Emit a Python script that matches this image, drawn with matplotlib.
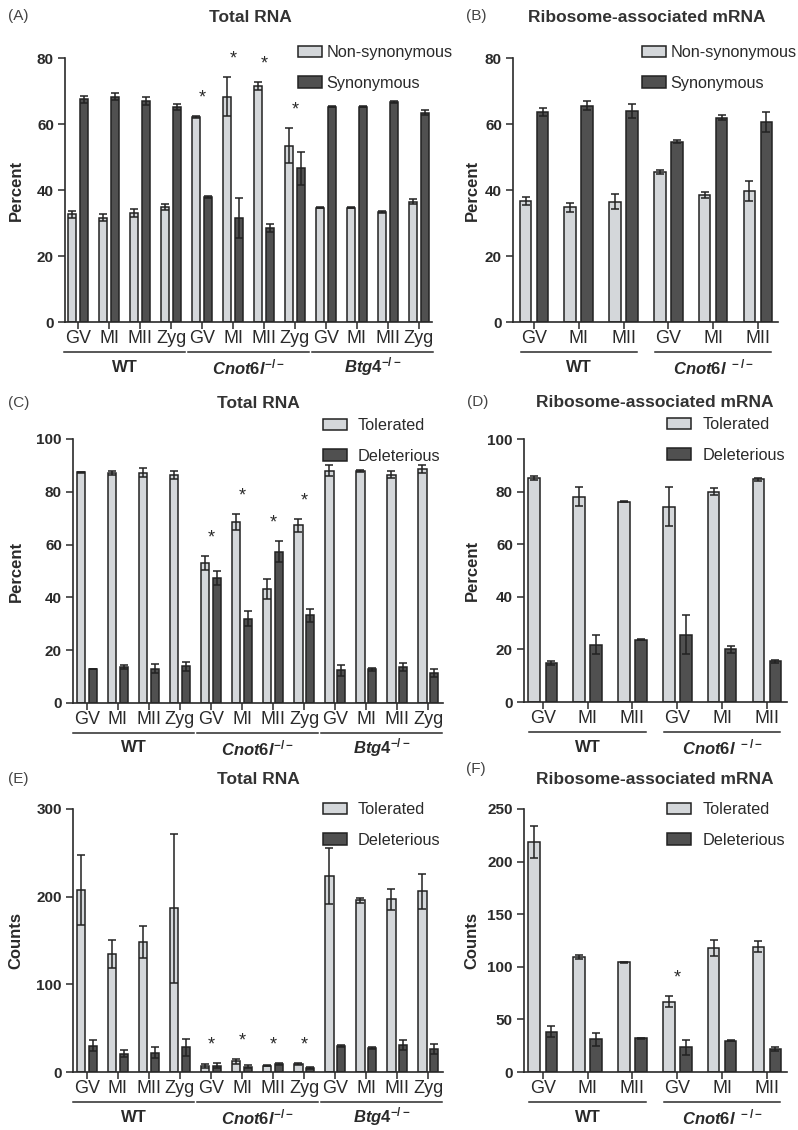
import numpy as np
import matplotlib
matplotlib.use("Agg")
import matplotlib.pyplot as plt
from matplotlib.transforms import offset_copy

plt.rcParams['font.family'] = ['Liberation Sans', 'DejaVu Sans']
plt.rcParams['mathtext.fontset'] = 'custom'
plt.rcParams['mathtext.it'] = 'Liberation Sans:italic:bold'
plt.rcParams['mathtext.rm'] = 'Liberation Sans:bold'

W, H = 798, 1130
LIGHT, DARK, EDGE, INK = "#d4d7da", "#505050", "#222222", "#2a2a2a"

# ---- data ----
stages4 = ["GV", "MI", "MII", "Zyg"] * 3
stages3 = ["GV", "MI", "MII"] * 2
groups3 = ["WT", r"$\mathit{Cnot6l}^{-/-}$", r"$\mathit{Btg4}^{-/-}$"]
groups2 = ["WT", r"$\mathit{Cnot6l}^{\ -/-}$"]

# (A) total RNA, percent
a_nonsyn = [32.6, 31.6, 32.9, 34.9, 62.0, 68.3, 71.5, 53.4, 34.6, 34.6, 33.4, 36.5]
a_nonsyn_err = [1.0, 1.0, 1.2, 1.0, 0.3, 6.0, 1.2, 5.3, 0.2, 0.2, 0.3, 0.8]
a_syn = [67.5, 68.3, 67.1, 65.1, 38.0, 31.6, 28.5, 46.6, 65.3, 65.3, 66.8, 63.4]
a_syn_err = [1.0, 1.0, 1.2, 1.0, 0.3, 6.0, 1.2, 5.0, 0.2, 0.2, 0.3, 0.8]
a_stars = [4, 5, 6, 7]

# (B) ribosome-associated mRNA, percent
b_nonsyn = [36.7, 34.7, 36.5, 45.5, 38.5, 39.8]
b_nonsyn_err = [1.2, 1.4, 2.2, 0.5, 0.9, 3.0]
b_syn = [63.5, 65.5, 63.9, 54.6, 61.9, 60.7]
b_syn_err = [1.2, 1.4, 2.2, 0.5, 0.8, 3.0]
b_stars = []

# (C) total RNA, percent
c_tol = [87.4, 87.0, 87.3, 86.4, 53.0, 68.6, 43.2, 67.3, 88.0, 87.8, 86.5, 88.6]
c_tol_err = [0.1, 0.7, 1.6, 1.5, 2.7, 3.0, 3.7, 2.4, 2.0, 0.3, 1.2, 1.5]
c_del = [12.8, 13.6, 13.0, 14.0, 47.4, 32.0, 57.3, 33.2, 12.4, 12.7, 13.7, 11.5]
c_del_err = [0.1, 0.8, 1.6, 1.7, 2.6, 3.0, 4.0, 2.5, 2.0, 0.4, 1.5, 1.5]
c_stars = [4, 5, 6, 7]

# (D) ribosome-associated mRNA, percent
d_tol = [85.3, 78.1, 76.2, 74.3, 80.0, 84.7]
d_tol_err = [0.8, 3.7, 0.2, 7.5, 1.3, 0.5]
d_del = [14.7, 21.8, 23.7, 25.6, 20.0, 15.4]
d_del_err = [0.8, 3.6, 0.2, 7.5, 1.3, 0.5]
d_stars = []

# (E) total RNA, counts
e_tol = [208, 135, 148, 187, 7, 12, 7, 9.5, 224, 196, 197, 206]
e_tol_err = [40, 16, 18, 85, 2.5, 3, 0.5, 1, 32, 3, 12, 20]
e_del = [30, 21, 22, 28, 7, 6, 9.5, 4.5, 30, 27.5, 31, 26]
e_del_err = [6, 4, 6, 9.5, 3, 2, 1, 0.8, 1, 1, 6, 6]
e_stars = [4, 5, 6, 7]

# (F) ribosome-associated mRNA, counts
f_tol = [218.6, 109.6, 104.3, 66.9, 118.2, 119.1]
f_tol_err = [15, 2, 0.5, 5, 7.5, 5.5]
f_del = [38.3, 31.0, 32.0, 23.5, 29.5, 21.9]
f_del_err = [5.5, 6, 0.5, 7, 0.5, 1.5]
f_stars = [3]

fig = plt.figure(figsize=(W / 100, H / 100), dpi=100)


def add_axes_px(left, right, top, bottom):
    return fig.add_axes([left / W, 1 - bottom / H, (right - left) / W, (bottom - top) / H])


def draw_panel(box, xlim, ylim, yticks, light, light_err, dark, dark_err, labels,
               stages, groups, stars, ylabel, title, title_x, title_y, letter, letter_xy,
               legend_x, legend_y, text_pad, n_per_group, line_half):
    left, right, top, bottom = box
    ax = add_axes_px(left, right, top, bottom)
    x = np.arange(len(light))
    wid = 0.28 if n_per_group == 4 else 0.26
    off = 0.19
    ekw = dict(ecolor=EDGE, elinewidth=1.1, capsize=3, capthick=1.1)
    b1 = ax.bar(x - off, light, wid, yerr=light_err, color=LIGHT, edgecolor=EDGE,
                linewidth=1.1, error_kw=ekw, label=labels[0], zorder=2)
    b2 = ax.bar(x + off, dark, wid, yerr=dark_err, color=DARK, edgecolor=EDGE,
                linewidth=1.1, error_kw=ekw, label=labels[1], zorder=2)

    ax.set_xlim(*xlim)
    ax.set_ylim(*ylim)
    ax.set_yticks(yticks)
    ax.set_xticks(x)
    ax.set_xticklabels(stages, fontsize=13, color=INK)
    for lab in ax.get_yticklabels():
        lab.set_fontweight("bold")
        lab.set_fontsize(11)
        lab.set_color(INK)
    ax.tick_params(axis="x", length=5, width=1.1, pad=1, color=INK)
    ax.tick_params(axis="y", length=5, width=1.1, pad=3, color=INK)
    for s in ["top", "right"]:
        ax.spines[s].set_visible(False)
    for s in ["left", "bottom"]:
        ax.spines[s].set_linewidth(1.2)
        ax.spines[s].set_color(INK)

    ax.set_ylabel(ylabel, fontsize=12, fontweight="bold", color=INK)
    ax.yaxis.label.set_va("center")
    label_x = 16 if left < 300 else 472
    ax.yaxis.set_label_coords((label_x - left) / (right - left), 0.5)

    # significance stars
    tops = np.maximum(np.array(light) + np.array(light_err), np.array(dark) + np.array(dark_err))
    for i in stars:
        ax.text(i, tops[i] + 0.068 * ylim[1], "*", ha="center", va="center",
                fontsize=13, color=INK)

    # group underlines and labels
    tr_line = offset_copy(ax.get_xaxis_transform(), fig=fig, y=-30, units="dots")
    tr_text = offset_copy(ax.get_xaxis_transform(), fig=fig, y=-45, units="dots")
    for g, name in enumerate(groups):
        i0, i1 = g * n_per_group, (g + 1) * n_per_group - 1
        ax.plot([i0 - line_half, i1 + line_half], [0, 0], color=INK, lw=1.1,
                transform=tr_line, clip_on=False)
        ax.text((i0 + i1) / 2, 0, name, transform=tr_text, ha="center", va="center",
                fontsize=12, fontweight="bold", color=INK)

    ax.legend(handles=[b1, b2], loc="upper left",
              bbox_to_anchor=(legend_x / W, 1 - (legend_y - 7) / H),
              bbox_transform=fig.transFigure, frameon=False, borderpad=0,
              borderaxespad=0, handlelength=1.45, handleheight=0.72,
              labelspacing=0.97, handletextpad=text_pad, fontsize=11.7,
              labelcolor=INK)

    fig.text(title_x / W, 1 - title_y / H, title, ha="center", va="center",
             fontsize=12.5, fontweight="bold", color="#333333")
    fig.text(letter_xy[0] / W, 1 - letter_xy[1] / H, letter, ha="left", va="center",
             fontsize=11, color="#444444")
    return ax


ns_labels = ["Non-synonymous", "Synonymous"]
td_labels = ["Tolerated", "Deleterious"]

draw_panel((65, 432, 58, 322), (-0.42, 11.42), (0, 80), [0, 20, 40, 60, 80],
           a_nonsyn, a_nonsyn_err, a_syn, a_syn_err, ns_labels, stages4, groups3, a_stars,
           "Percent", "Total RNA", 250, 18, "(A)", (8, 16), 298, 52, 0.3, 4, 0.45)
draw_panel((513, 778, 58, 322), (-0.47, 5.45), (0, 80), [0, 20, 40, 60, 80],
           b_nonsyn, b_nonsyn_err, b_syn, b_syn_err, ns_labels, stages3, groups2, b_stars,
           "Percent", "Ribosome-associated mRNA", 647, 18, "(B)", (466, 16), 642, 52, 0.3, 3, 0.3)
draw_panel((73, 443, 439, 703), (-0.45, 11.48), (0, 100), [0, 20, 40, 60, 80, 100],
           c_tol, c_tol_err, c_del, c_del_err, td_labels, stages4, groups3, c_stars,
           "Percent", "Total RNA", 258, 403, "(C)", (8, 403), 323, 425, 0.68, 4, 0.45)
draw_panel((524, 787, 439, 702), (-0.42, 5.45), (0, 100), [0, 20, 40, 60, 80, 100],
           d_tol, d_tol_err, d_del, d_del_err, td_labels, stages3, groups2, d_stars,
           "Percent", "Ribosome-associated mRNA", 655, 402, "(D)", (467, 402), 667, 424, 0.74, 3, 0.3)
draw_panel((73, 443, 809, 1072), (-0.45, 11.48), (0, 300), [0, 100, 200, 300],
           e_tol, e_tol_err, e_del, e_del_err, td_labels, stages4, groups3, e_stars,
           "Counts", "Total RNA", 258, 779, "(E)", (8, 779), 323, 809, 0.68, 4, 0.45)
draw_panel((524, 787, 809, 1072), (-0.42, 5.45), (0, 250), [0, 50, 100, 150, 200, 250],
           f_tol, f_tol_err, f_del, f_del_err, td_labels, stages3, groups2, f_stars,
           "Counts", "Ribosome-associated mRNA", 655, 780, "(F)", (466, 769), 667, 809, 0.74, 3, 0.3)

fig.savefig("out.png", dpi=100)
